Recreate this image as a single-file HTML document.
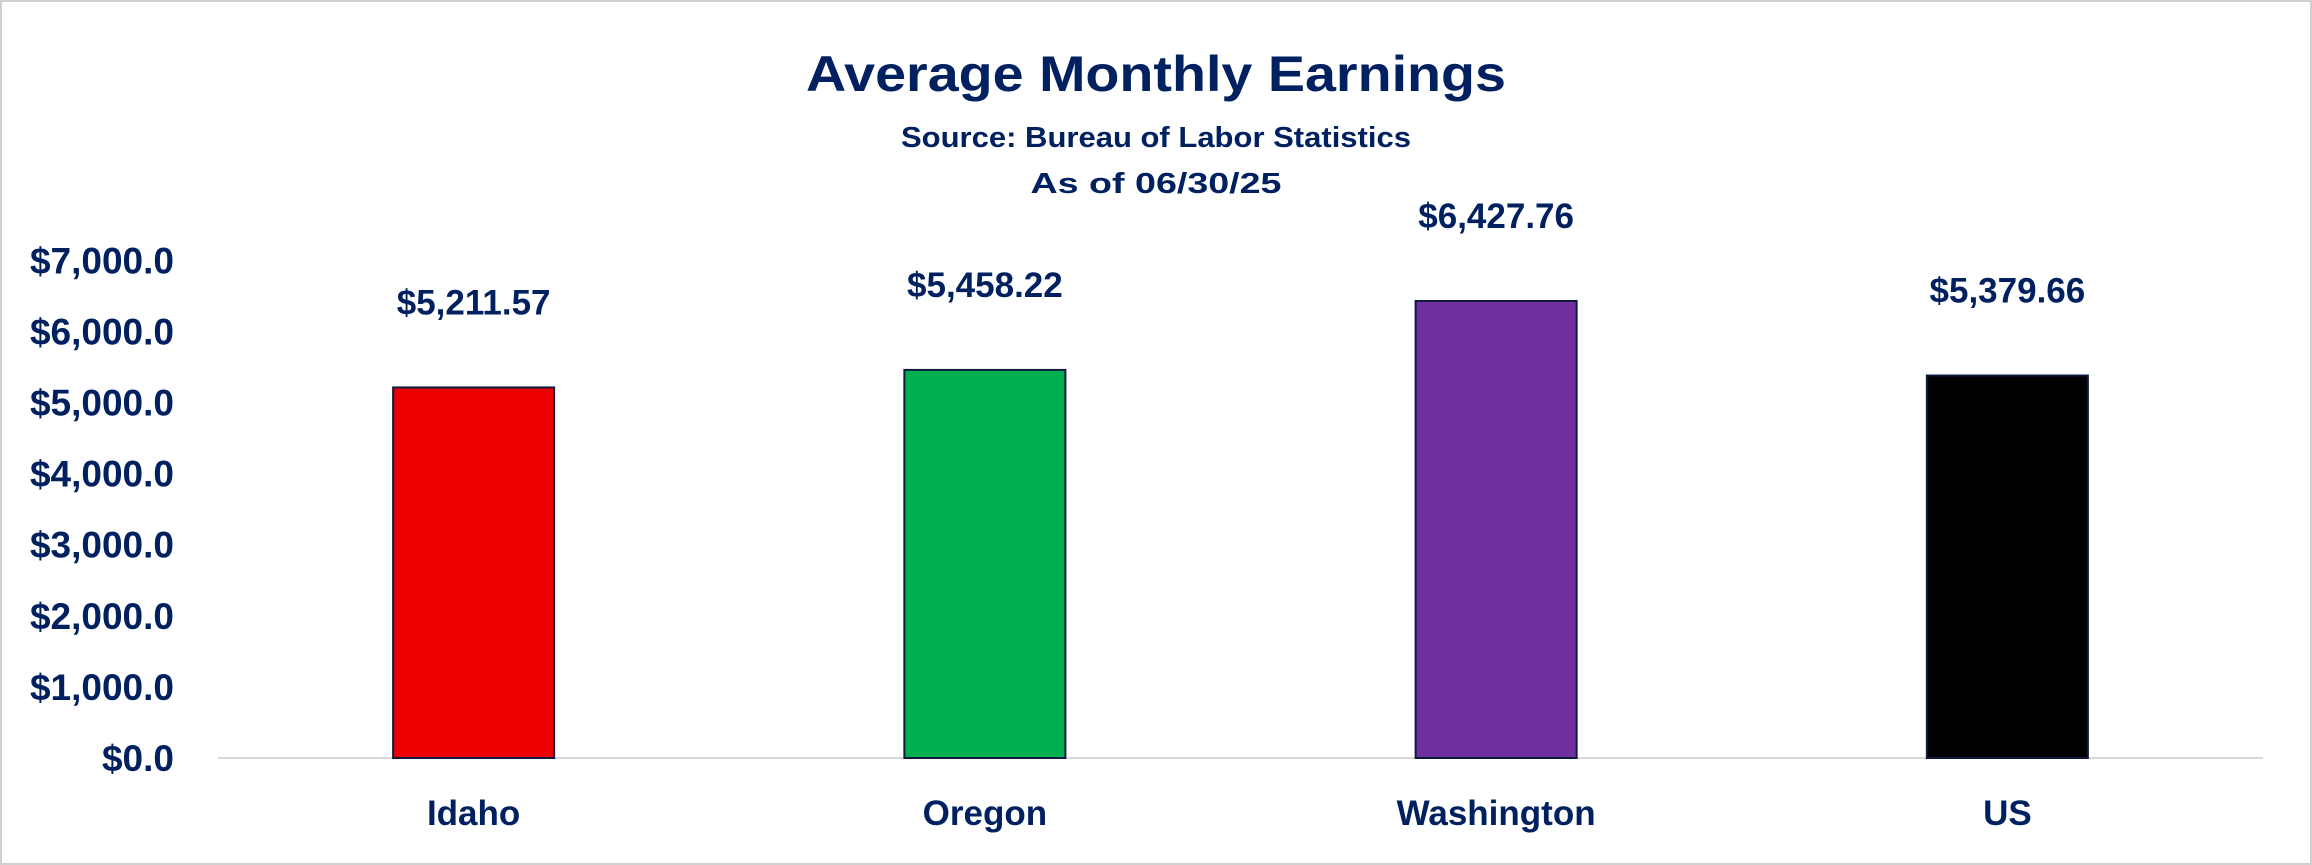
<!DOCTYPE html>
<html><head><meta charset="utf-8"><style>
html,body{margin:0;padding:0;background:#fff}
svg{display:block;font-family:"Liberation Sans",sans-serif;font-weight:bold}
</style></head><body>
<svg id="chart" width="2312" height="865" viewBox="0 0 2312 865">
<rect x="1" y="1" width="2310" height="863" fill="#fff" stroke="#d0d0d0" stroke-width="2"/>
<text x="1156" y="91" text-anchor="middle" font-size="50" fill="#002060" textLength="700" lengthAdjust="spacingAndGlyphs">Average Monthly Earnings</text>
<text x="1156" y="147" text-anchor="middle" font-size="29" fill="#002060" textLength="510" lengthAdjust="spacingAndGlyphs">Source: Bureau of Labor Statistics</text>
<text x="1156" y="193" text-anchor="middle" font-size="29" fill="#002060" textLength="251" lengthAdjust="spacingAndGlyphs">As of 06/30/25</text>
<g id="yaxis"></g>
<line x1="218" y1="758" x2="2263" y2="758" stroke="#d9d9d9" stroke-width="2"/>
<g id="bars"></g>
</svg>
<script>
const categories = ["Idaho","Oregon","Washington","US"];
const values = [5211.57,5458.22,6427.76,5379.66];
const valueLabels = ["$5,211.57","$5,458.22","$6,427.76","$5,379.66"];
const tickValues = [0,1000,2000,3000,4000,5000,6000,7000];
const tickLabels = ["$0.0","$1,000.0","$2,000.0","$3,000.0","$4,000.0","$5,000.0","$6,000.0","$7,000.0"];
const colors = ["#ee0000","#00b050","#7030a0","#000000"];

const NS="http://www.w3.org/2000/svg";
const left=218,right=2263,y0=758,perK=71.1,barW=161;
const catW=(right-left)/categories.length;
function yScale(v){return y0-v/1000*perK;}
function xCenter(i){return left+catW*(i+0.5);}
function mk(tag,attrs,parent){const e=document.createElementNS(NS,tag);for(const k in attrs)e.setAttribute(k,attrs[k]);parent.appendChild(e);return e;}

const ya=document.getElementById("yaxis");
tickValues.forEach((v,i)=>{
  const t=mk("text",{x:174,y:yScale(v)+13,"text-anchor":"end","font-size":"37",fill:"#002060"},ya);
  
  
  t.textContent=tickLabels[i];
});
const bg=document.getElementById("bars");
categories.forEach((c,i)=>{
  const cx=xCenter(i),top=yScale(values[i]);
  const r=mk("rect",{x:cx-barW/2,y:top,width:barW,height:y0-top,fill:colors[i],stroke:"#0d1a40","stroke-width":"2"},bg);
  
  
  const vl=mk("text",{x:cx,y:top-73,"text-anchor":"middle","font-size":"35",fill:"#002060"},bg);
  
  
  vl.textContent=valueLabels[i];
  const cl=mk("text",{x:cx,y:825,"text-anchor":"middle","font-size":"35",fill:"#002060"},bg);
  
  
  cl.textContent=c;
});
</script>
</body></html>
